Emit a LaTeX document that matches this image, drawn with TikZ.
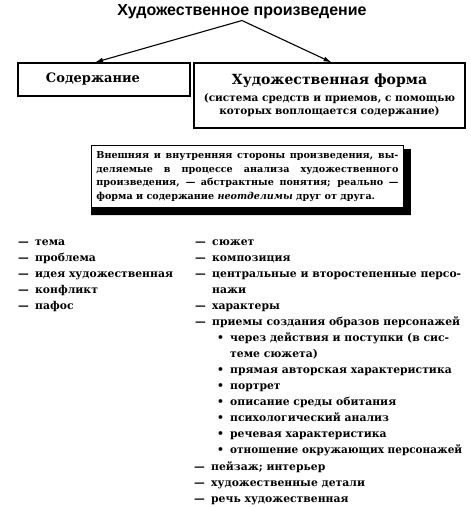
\documentclass[tikz,border=0pt]{standalone}
\usepackage{fontspec}
\setmainfont{DejaVu Serif}
\newfontfamily\basfont{Liberation Sans}
\usetikzlibrary{arrows.meta,calc}
\newcommand{\cizgi}{\makebox[17pt][l]{—}}
\newcommand{\nokta}{\makebox[13pt][l]{\textbullet}}

\begin{document}
\begin{tikzpicture}[x=1pt,y=-1pt,
  kutu/.style={draw,line width=1.3pt,inner sep=0pt,align=center},
  madde/.style={anchor=base west,inner sep=0pt,font=\bfseries\fontsize{10.8}{12}\selectfont},
  ok/.style={-{Latex[length=8pt,width=5pt]},line width=1.1pt}]
\useasboundingbox (0,0) rectangle (471,507);
\node[anchor=base,inner sep=2pt,font=\basfont\bfseries\fontsize{16}{18}\selectfont] (eser) at (242,15) {Художественное произведение};
\node[kutu,minimum width=172pt,minimum height=33pt,font=\bfseries\fontsize{13}{15}\selectfont] (icerik) at (104,79.5) {Содержание\hspace*{22pt}};
\node[kutu,minimum width=271pt,minimum height=65pt,font=\bfseries\fontsize{10.5}{13}\selectfont] (bicim) at (329.5,95.5)
  {{\fontsize{14}{16}\selectfont Художественная форма}\\[4pt]
   (система средств и приемов, с помощью\\ которых воплощается содержание)};
\draw[ok] (eser.south) -- ([xshift=-9pt]icerik.north);
\draw[ok] (eser.south) -- ([xshift=2pt]bicim.north);
% golgeli kutu
\node[draw,line width=0.8pt,fill=white,anchor=north west,text width=302pt,inner xsep=5pt,inner ysep=6.3pt,
  align=justify,font=\bfseries\fontsize{9.6}{13.5}\selectfont] (not) at (91,145)
  {Внешняя и внутренняя стороны произведения, вы-\linebreak деляемые в процессе анализа художественного\linebreak произведения, — абстрактные понятия; реально —\linebreak форма и содержание \textit{неотделимы} друг от друга.};
\fill (not.south west) -- ($(not.south west)+(0,7)$) -- ($(not.south east)+(7,7)$)
  -- ($(not.north east)+(7,4)$) -- ($(not.north east)+(0,4)$) -- (not.south east) -- cycle;
% sol liste
\node[madde] (l1) at (18,245) {\cizgi тема};
\node[madde] (l2) at (18,261) {\cizgi проблема};
\node[madde] (l3) at (18,277) {\cizgi идея художественная};
\node[madde] (l4) at (18,293) {\cizgi конфликт};
\node[madde] (l5) at (18,309) {\cizgi пафос};
% sag liste
\node[madde] (r1) at (195,245) {\cizgi сюжет};
\node[madde] (r2) at (195,261) {\cizgi композиция};
\node[madde] (r3) at (195,277) {\cizgi центральные и второстепенные персо-};
\node[madde] (r4) at (212,293) {нажи};
\node[madde] (r5) at (195,309) {\cizgi характеры};
\node[madde] (r6) at (195,325) {\cizgi приемы создания образов персонажей};
\node[madde] (r7) at (217,341) {\nokta через действия и поступки (в сис-};
\node[madde] (r8) at (230,357) {теме сюжета)};
\node[madde] (r9) at (217,373) {\nokta прямая авторская характеристика};
\node[madde] (r10) at (217,389) {\nokta портрет};
\node[madde] (r11) at (217,405) {\nokta описание среды обитания};
\node[madde] (r12) at (217,421) {\nokta психологический анализ};
\node[madde] (r13) at (217,437) {\nokta речевая характеристика};
\node[madde] (r14) at (217,453) {\nokta \scalebox{0.97}[1]{отношение окружающих персонажей}};
\node[madde] (r15) at (194,470) {\cizgi пейзаж; интерьер};
\node[madde] (r16) at (194,486) {\cizgi художественные детали};
\node[madde] (r17) at (194,502) {\cizgi речь художественная};
\end{tikzpicture}
\end{document}
